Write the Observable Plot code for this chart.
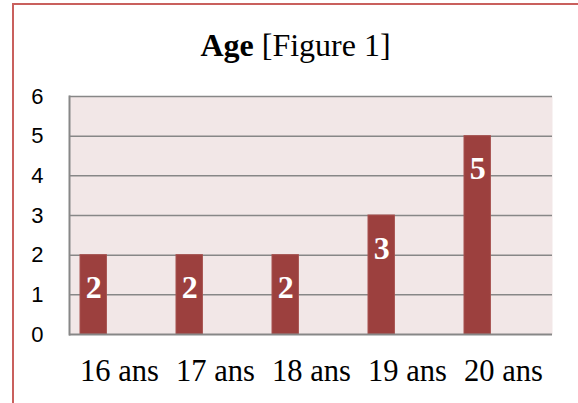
<!DOCTYPE html>
<html>
<head>
<meta charset="utf-8">
<script src="https://cdn.jsdelivr.net/npm/d3@7"></script>
<script src="https://cdn.jsdelivr.net/npm/@observablehq/plot@0.6"></script>
<style>
  html, body { margin: 0; padding: 0; background: #fff; }
  #wrap { position: relative; width: 578px; height: 403px; overflow: hidden; }
  #border { position: absolute; left: 12px; top: 3px; width: 700px; height: 600px;
            border: 2px solid #c9605d; box-sizing: border-box; }
  #title { position: absolute; left: 0; width: 591px; top: 27px; text-align: center;
           font-family: "Liberation Serif", serif; font-size: 32px; line-height: 36px; color: #000; }
  #chart { position: absolute; left: 0; top: 0; }
</style>
</head>
<body>
<div id="wrap">
  <div id="border"></div>
  <div id="title"><b>Age</b> [Figure 1]</div>
  <div id="chart"></div>
</div>
<script>
const categories = ["16 ans", "17 ans", "18 ans", "19 ans", "20 ans"];
const values = [2, 2, 2, 3, 5];
const yTicks = [0, 1, 2, 3, 4, 5, 6];

const data = categories.map((c, i) => ({category: c, value: values[i]}));

const chart = Plot.plot({
  width: 578,
  height: 403,
  marginTop: 96,
  marginBottom: 69,
  marginLeft: 69,
  marginRight: 26,
  style: {background: "transparent", overflow: "visible"},
  x: {type: "band", domain: categories, padding: 0, label: null},
  y: {domain: [0, 6], ticks: yTicks, label: null},
  marks: [
    Plot.frame({fill: "#f2e7e7", stroke: null}),
    Plot.ruleY(yTicks.filter(d => d > 0), {stroke: "#878787", strokeWidth: 1.5}),
    Plot.barY(data, {x: "category", y: "value", fill: "#9c403e", stroke: "#a6504e", strokeWidth: 1,
                     insetLeft: 9, insetRight: 60.6}),
    Plot.ruleY([0], {stroke: "#878787", strokeWidth: 2}),
    Plot.frame({anchor: "left", stroke: "#878787", strokeWidth: 2}),
    Plot.text(data, {x: "category", y: "value", text: d => String(d.value), dx: -25.8, dy: 33,
                     fill: "white", fontWeight: "bold", fontSize: 32,
                     fontFamily: "Liberation Serif", lineAnchor: "middle"}),
    Plot.axisX({tickSize: 0, tickPadding: 37, fontSize: 30.5, fontFamily: "Liberation Serif",
                lineAnchor: "middle", anchor: "bottom", color: "#000"}),
    Plot.axisY({ticks: yTicks, tickFormat: d => String(d), tickSize: 0, tickPadding: 26, fontSize: 22,
                fontFamily: "Liberation Sans", anchor: "left", color: "#000"})
  ]
});
chart.style.fontFamily = "Liberation Sans";
document.getElementById("chart").appendChild(chart);
</script>
</body>
</html>
